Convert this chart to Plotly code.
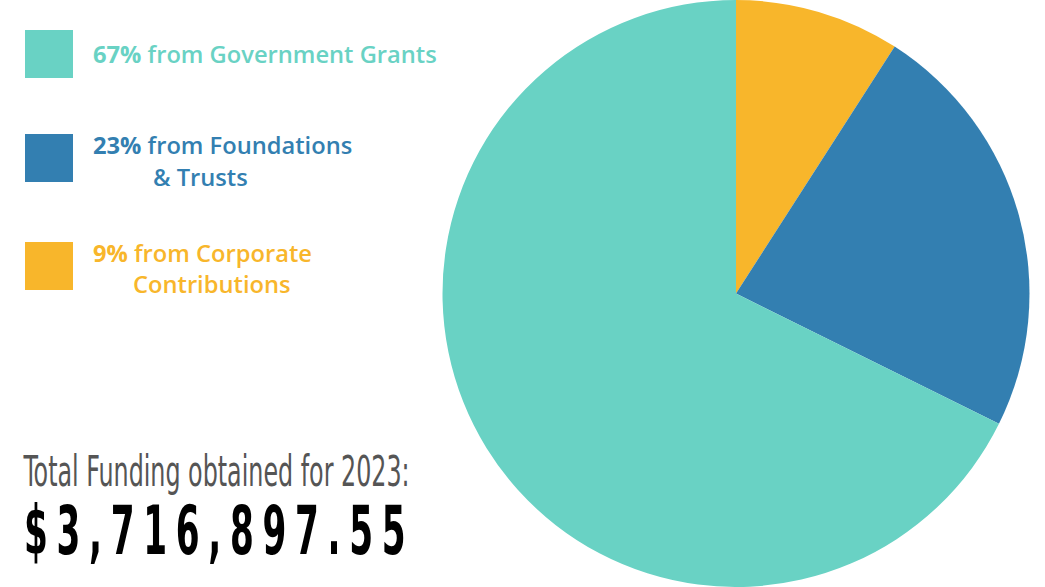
import plotly.graph_objects as go

# Data (drawing order: clockwise from 12 o'clock)
categories = ["Corporate Contributions", "Foundations & Trusts", "Government Grants"]
shares = [9, 23, 67]
colors = ["#F8B62B", "#337FB1", "#69D2C4"]

# Legend rows (top to bottom)
legend_order = [2, 1, 0]
label_line1 = {2: "from Government Grants", 1: "from Foundations", 0: "from Corporate"}
label_line2 = {2: "", 1: "& Trusts", 0: "Contributions"}
total_title = "Total Funding obtained for 2023:"
total_value = "$3,716,897.55"

W, H = 1045, 587

fig = go.Figure()
fig.add_trace(go.Pie(
    labels=categories,
    values=shares,
    marker=dict(colors=colors, line=dict(width=0)),
    sort=False,
    direction="clockwise",
    rotation=0,
    textinfo="none",
    hoverinfo="label+percent",
    showlegend=False,
    domain=dict(x=[442.5 / W, 1029.5 / W], y=[0, 1]),
))

sq_top = [30, 134, 242]
line1_y = [54, 145, 253]
line2_y = [None, 177, 284]
line2_x = [None, 151, 131]
for row, i in enumerate(legend_order):
    fig.add_shape(type="rect", xref="paper", yref="paper",
                  x0=25 / W, x1=73 / W, y0=1 - (sq_top[row] + 48) / H, y1=1 - sq_top[row] / H,
                  fillcolor=colors[i], line=dict(width=0))
    fig.add_annotation(xref="paper", yref="paper", x=91 / W, y=1 - line1_y[row] / H,
                       xanchor="left", yanchor="middle", showarrow=False,
                       text=f"<b>{shares[i]}%</b> {label_line1[i]}",
                       font=dict(family="Open Sans", size=23.7, color=colors[i], weight=600))
    if label_line2[i]:
        fig.add_annotation(xref="paper", yref="paper", x=line2_x[row] / W, y=1 - line2_y[row] / H,
                           xanchor="left", yanchor="middle", showarrow=False,
                           text=label_line2[i],
                           font=dict(family="Open Sans", size=23.7, color=colors[i], weight=600))

fig.add_annotation(xref="paper", yref="paper", x=22 / W, y=1 - 471 / H,
                   xanchor="left", yanchor="middle", showarrow=False,
                   text=total_title,
                   font=dict(family="DejaVu Sans Condensed", size=42, color="#555555"))
fig.add_annotation(xref="paper", yref="paper", x=22 / W, y=1 - 530 / H,
                   xanchor="left", yanchor="middle", showarrow=False,
                   text=f"<b>{total_value}</b>",
                   font=dict(family="DejaVu Sans Condensed", size=68, color="#000000"))

fig.update_layout(width=W, height=H, margin=dict(l=0, r=0, t=0, b=0),
                  paper_bgcolor="white", plot_bgcolor="white")

post = """
document.body.style.margin = '0';
var gd = document.getElementById('{plot_id}');
var styles = {'Total': [0.63, 0], '$3,7': [0.56, 15.5]};
gd.querySelectorAll('.annotation-text').forEach(function(t) {
  var s = t.textContent;
  Object.keys(styles).forEach(function(k) {
    if (s.indexOf(k) === 0) {
      var bb = t.getBBox();
      t.setAttribute('text-anchor', 'start');
      t.setAttribute('x', bb.x);
      t.style.letterSpacing = styles[k][1] + 'px';
      t.style.transformBox = 'fill-box';
      t.style.transformOrigin = 'left center';
      t.style.transform = 'scaleX(' + styles[k][0] + ')';
    }
  });
});
"""
fig.write_html("out.html", post_script=post, config={"displayModeBar": False})
